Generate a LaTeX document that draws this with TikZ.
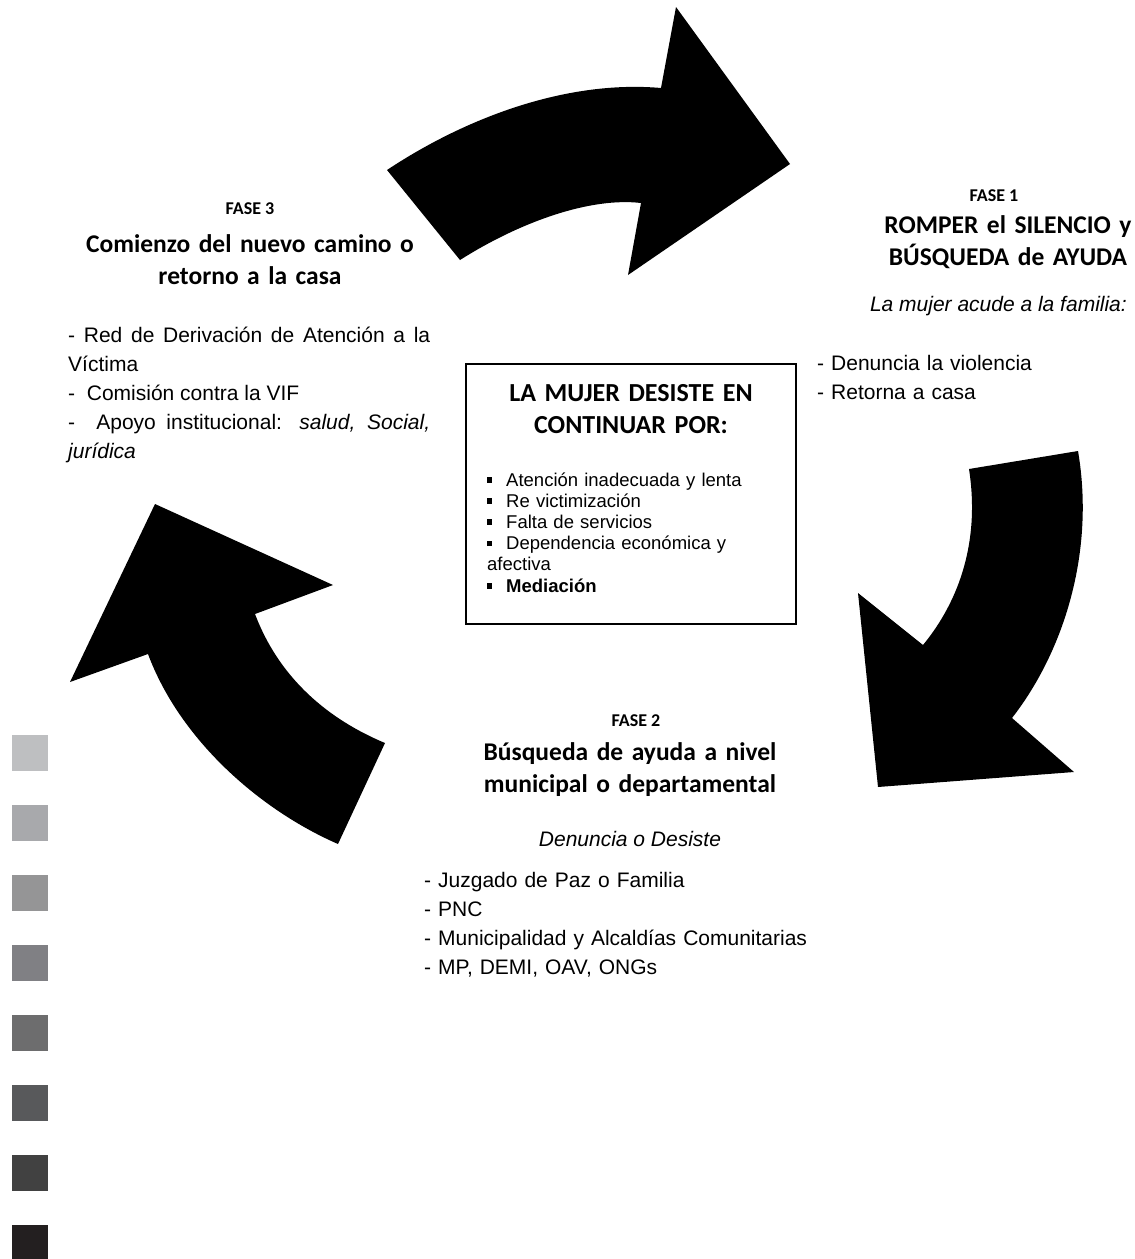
\documentclass[tikz,border=0pt]{standalone}
\usepackage{fontspec}
\setmainfont{Liberation Sans}
\newfontfamily\calibri{Carlito}
\definecolor{shade1}{HTML}{BEBFC1}
\definecolor{shade2}{HTML}{A8A9AC}
\definecolor{shade3}{HTML}{959596}
\definecolor{shade4}{HTML}{808084}
\definecolor{shade5}{HTML}{6D6D6E}
\definecolor{shade6}{HTML}{58595B}
\definecolor{shade7}{HTML}{414141}
\definecolor{shade8}{HTML}{231F20}
\newcommand{\boxitem}[1]{\makebox[19pt][l]{\rule[3.5pt]{5pt}{5.5pt}}#1}
\tikzset{
    fase-label/.style = {font={\calibri\bfseries\fontsize{18}{22}\selectfont}, inner sep=0pt, anchor=base},
    fase-title/.style = {font={\calibri\bfseries\fontsize{25.5}{32}\selectfont}, inner sep=0pt, anchor=base, text width=360pt, align=center},
    list-text/.style = {font={\fontsize{21}{29}\selectfont}, inner sep=0pt, anchor=base west, align=left},
    cycle-arrow/.style = {fill=black, draw=none},
    desiste-box/.style = {draw=black, line width=1.5pt},
}

\begin{document}
\begin{tikzpicture}[x=1pt, y=-1pt]
\useasboundingbox (0,0) rectangle (1135,1259);

% arrows of the cycle
\fill[cycle-arrow] (387,170) .. controls (470,115) and (570,80) .. (661,88) -- (676,7) -- (790,164) -- (628,275) -- (641,203) .. controls (590,197) and (520,222) .. (460,260) -- cycle;
\fill[cycle-arrow] (969,469) -- (1078,451) .. controls (1095,550) and (1065,650) .. (1012,718) -- (1074,772) -- (878,787) -- (858,593) -- (923,645) .. controls (960,600) and (980,540) .. (969,469) -- cycle;
\fill[cycle-arrow] (338,844) .. controls (260,810) and (180,740) .. (148,654) -- (70,682) -- (155,504) -- (333,585) -- (255,614) .. controls (280,680) and (330,720) .. (385,743) -- cycle;

% FASE 1
\node[fase-label] (f1label) at (994,201) {FASE 1};
\node[fase-title] (f1title) at (1008,233) {ROMPER el SILENCIO y\\BÚSQUEDA de AYUDA};
\node[list-text, anchor=base east] (f1sub) at (1127,311) {\itshape La mujer acude a la familia:};
\node[list-text, text width=300pt] (f1list) at (817,370) {- Denuncia la violencia\\- Retorna a casa};

% FASE 2
\node[fase-label] (f2label) at (636,726) {FASE 2};
\node[fase-title] (f2title) at (630,760) {Búsqueda de ayuda a nivel\\municipal o departamental};
\node[list-text, anchor=base] (f2sub) at (630,846) {\itshape Denuncia o Desiste};
\node[list-text, text width=420pt] (f2list) at (424,887) {- Juzgado de Paz o Familia\\- PNC\\- Municipalidad y Alcaldías Comunitarias\\- MP, DEMI, OAV, ONGs};

% FASE 3
\node[fase-label] (f3label) at (250,214) {FASE 3};
\node[fase-title] (f3title) at (250,252) {Comienzo del nuevo camino o\\retorno a la casa};
\node[list-text, text width=362pt, align=justify] (f3list) at (68,342) {- Red de Derivación de Atención a la\linebreak Víctima\\- \ Comisión contra la VIF\\- \ Apoyo institucional: \textit{salud, Social,}\linebreak \textit{jurídica}};

% centre box
\draw[desiste-box] (466,364) rectangle (796,624);
\node[fase-title, font={\calibri\bfseries\fontsize{26}{32}\selectfont}] (boxtitle) at (631,401) {LA MUJER DESISTE EN\\CONTINUAR POR:};
\node[list-text, font={\fontsize{18.5}{21.2}\selectfont}, text width=300pt] (boxlist) at (487,486) {\boxitem{Atención inadecuada y lenta}\\\boxitem{Re victimización}\\\boxitem{Falta de servicios}\\\boxitem{Dependencia económica y}\\afectiva\\\boxitem{\bfseries Mediación}};

% grey scale strip
\foreach \shade [count=\i from 0] in {shade1,shade2,shade3,shade4,shade5,shade6,shade7,shade8}
    \fill[\shade] (12,{735+70*\i}) rectangle ++(36,36);
\end{tikzpicture}
\end{document}
